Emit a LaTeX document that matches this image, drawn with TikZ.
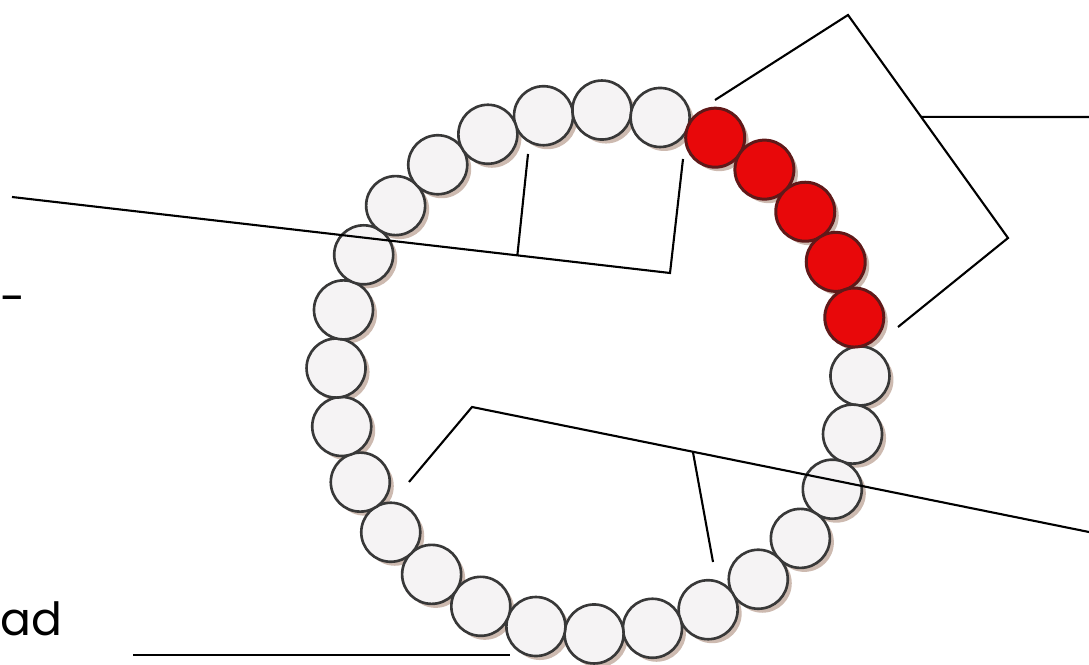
\documentclass[tikz,border=0pt]{standalone}
\usepackage{fontspec}
\setmainfont{Poppins}
\usetikzlibrary{calc}
\definecolor{beadwhite}{RGB}{245,243,244}
\definecolor{beadred}{RGB}{232,8,10}
\definecolor{beadrim}{RGB}{95,25,25}
\definecolor{beadshadow}{RGB}{205,186,176}
\begin{document}
\begin{tikzpicture}[
  bead/.style={circle,draw=black!78,fill=beadwhite,line width=0.75pt,minimum size=0.59cm,inner sep=0pt},
  redbead/.style={bead,draw=beadrim,fill=beadred,line width=0.85pt},
  beadshade/.style={circle,fill=beadshadow,minimum size=0.59cm,inner sep=0pt},
  leader/.style={line width=0.6pt},
  label/.style={inner sep=0pt,font=\fontsize{13}{16}\selectfont}
]
\useasboundingbox (0,0) rectangle (10.89,6.64);

% ring of beads
\coordinate (O) at (5.98,2.92);
\foreach \k in {1,...,28} {
  \pgfmathsetmacro{\ang}{102-(\k-1)*360/28}
  \node[beadshade] (s\k) at ($(O)+(\ang:2.62)+(0.04,-0.04)$) {};
}
\foreach \k in {1,2,3,9,10,...,28} {
  \pgfmathsetmacro{\ang}{102-(\k-1)*360/28}
  \node[bead] (b\k) at ($(O)+(\ang:2.62)$) {};
}
% red beads
\foreach \k in {4,...,8} {
  \pgfmathsetmacro{\ang}{102-(\k-1)*360/28}
  \node[redbead] (b\k) at ($(O)+(\ang:2.62)$) {};
}

% upper left bracket
\coordinate (A1) at (0.12,4.67);
\coordinate (A2) at (6.70,3.91);
\coordinate (A3) at (6.83,5.05);
\coordinate (A4) at (5.28,5.10);
\draw[leader] (A1) -- (A2) -- (A3);
\draw[leader] ($(A1)!0.768!(A2)$) -- (A4);

% upper right bracket
\coordinate (B1) at (7.15,5.64);
\coordinate (B2) at (8.48,6.49);
\coordinate (B3) at (10.08,4.26);
\coordinate (B4) at (8.98,3.37);
\coordinate (B5) at (10.89,5.47);
\draw[leader] (B1) -- (B2) -- (B3) -- (B4);
\draw[leader] ($(B2)!0.457!(B3)$) -- (B5);

% lower bracket
\coordinate (C1) at (4.09,1.82);
\coordinate (C2) at (4.72,2.57);
\coordinate (C3) at (10.89,1.32);
\coordinate (C4) at (7.13,1.02);
\draw[leader] (C1) -- (C2) -- (C3);
\draw[leader] ($(C2)!0.358!(C3)$) -- (C4);

% bottom line
\coordinate (D1) at (1.33,0.09);
\coordinate (D2) at (5.10,0.09);
\draw[leader] (D1) -- (D2);

% labels at the left edge
\node[label,anchor=base west] (adtext) at (0.0,0.29) {ad};
\node[label,anchor=west] (dash) at (0.0,3.59) {-};
\end{tikzpicture}
\end{document}
